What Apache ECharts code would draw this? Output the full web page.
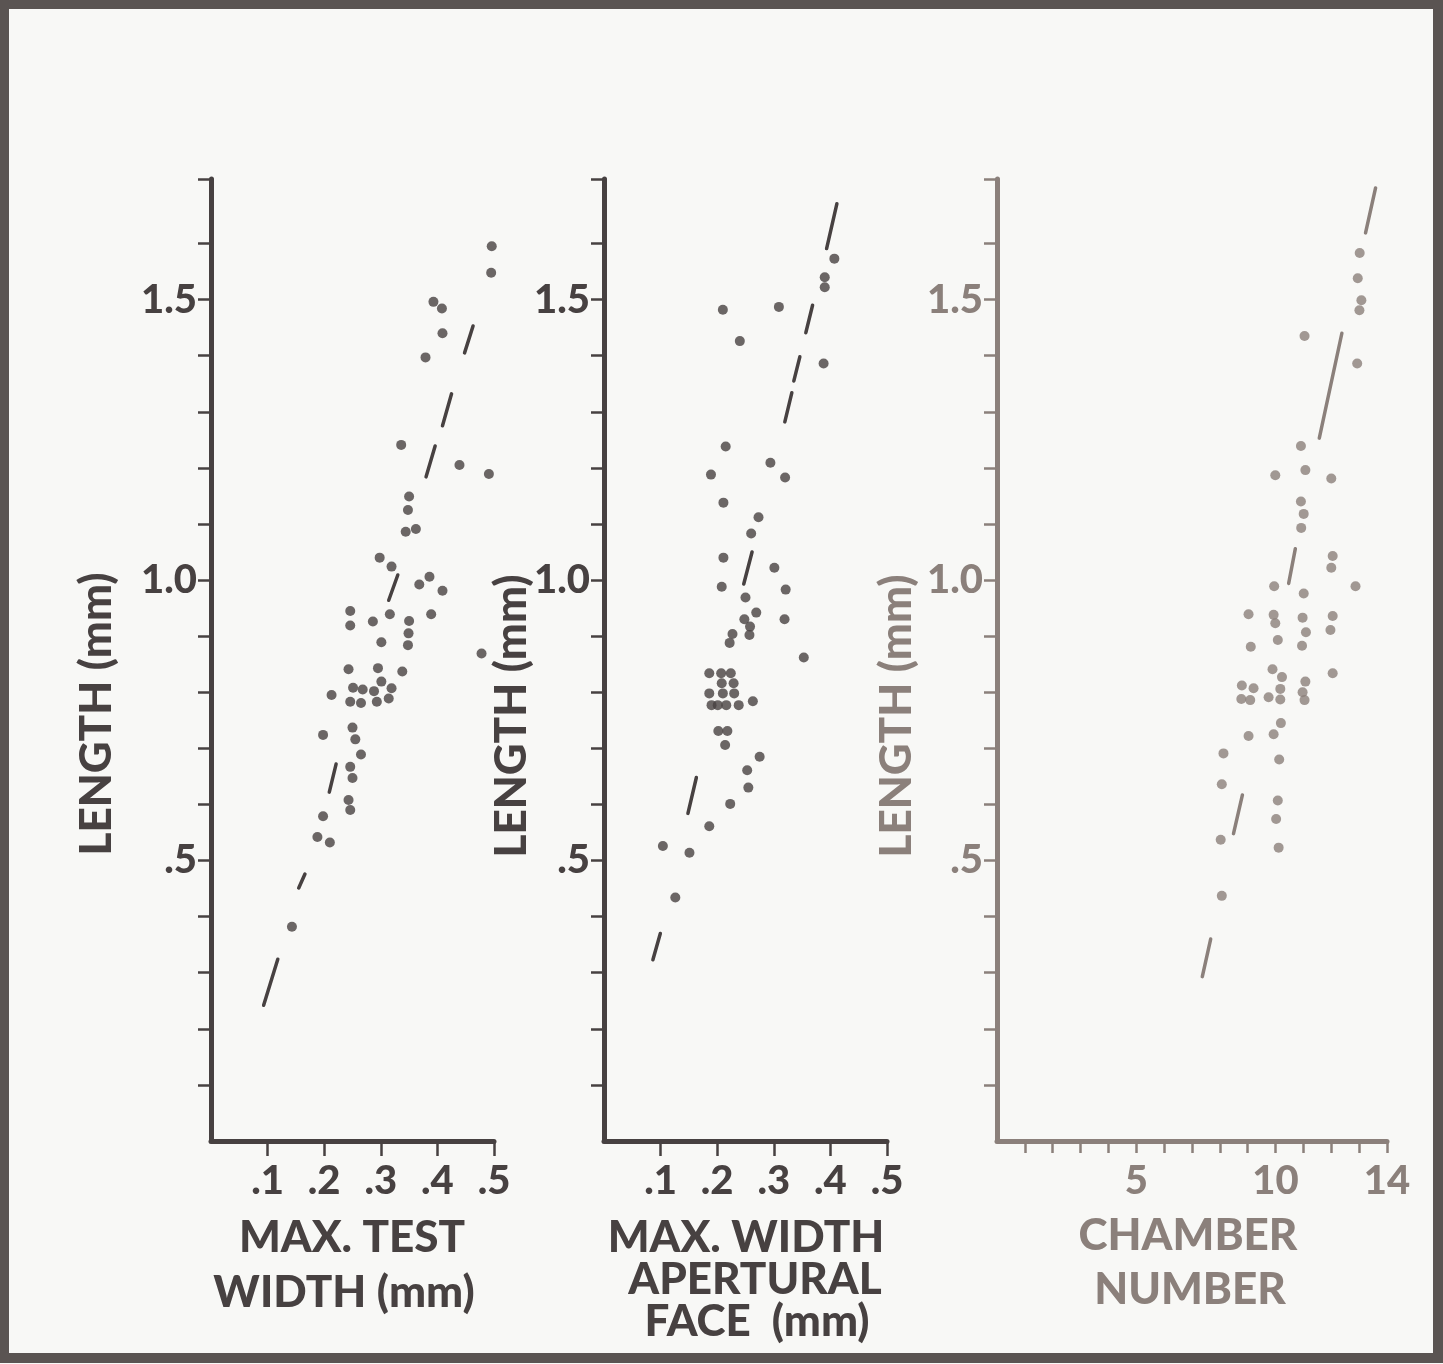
<!DOCTYPE html>
<html>
<head>
<meta charset="utf-8">
<script src="https://cdn.jsdelivr.net/npm/echarts@6/dist/echarts.min.js"></script>
<style>
  html, body { margin: 0; padding: 0; background: #f8f8f6; }
  #chart { width: 1443px; height: 1364px; }
</style>
</head>
<body>
<div id="chart"></div>
<script>
// panel 1: length vs max. test width
var widthPoints = [
  [.496,1.595],[.495,1.548],[.393,1.496],[.408,1.484],[.409,1.440],[.379,1.397],[.336,1.241],
  [.439,1.205],[.491,1.189],[.350,1.149],[.348,1.125],[.344,1.086],[.362,1.091],[.298,1.040],
  [.319,1.024],[.386,1.006],[.368,0.992],[.409,0.981],[.246,0.945],[.246,0.919],[.286,0.926],
  [.316,0.939],[.350,0.927],[.389,0.939],[.349,0.905],[.348,0.884],[.301,0.889],[.478,0.869],
  [.243,0.841],[.295,0.843],[.338,0.837],[.301,0.819],[.213,0.795],[.251,0.808],[.268,0.805],
  [.288,0.802],[.319,0.807],[.314,0.789],[.246,0.783],[.265,0.781],[.293,0.783],[.198,0.724],
  [.250,0.737],[.255,0.716],[.265,0.689],[.246,0.667],[.250,0.647],[.243,0.608],[.246,0.590],
  [.198,0.579],[.188,0.542],[.210,0.532],[.143,0.382]
];
var widthDashes = [
  [[.534,1.692],[.518,1.638]], [[.463,1.453],[.448,1.405]], [[.425,1.332],[.409,1.275]],
  [[.396,1.239],[.380,1.184]], [[.330,1.009],[.314,0.964]], [[.221,0.672],[.209,0.622]],
  [[.166,0.476],[.155,0.451]], [[.118,0.324],[.093,0.242]]
];

// panel 2: length vs max. width of apertural face
var faceWidthPoints = [
  [.407,1.573],[.390,1.540],[.390,1.522],[.210,1.482],[.309,1.487],[.240,1.426],[.388,1.386],
  [.215,1.238],[.294,1.209],[.189,1.188],[.320,1.183],[.211,1.138],[.273,1.112],[.260,1.083],
  [.211,1.040],[.301,1.022],[.208,0.988],[.321,0.983],[.250,0.969],[.269,0.942],[.248,0.930],
  [.258,0.917],[.257,0.902],[.319,0.930],[.227,0.904],[.222,0.888],[.353,0.862],
  [.186,0.834],[.207,0.834],[.224,0.834],[.208,0.816],[.229,0.816],[.186,0.798],[.210,0.798],
  [.230,0.798],[.190,0.777],[.201,0.777],[.216,0.777],[.238,0.777],[.263,0.784],
  [.202,0.731],[.218,0.731],[.214,0.706],[.275,0.685],[.253,0.661],[.255,0.630],[.223,0.601],
  [.186,0.561],[.104,0.526],[.151,0.514],[.126,0.434]
];
var faceWidthDashes = [
  [[.4115,1.671],[.3933,1.591]], [[.3685,1.490],[.3566,1.441]], [[.346,1.398],[.3354,1.355]],
  [[.3319,1.334],[.3195,1.282]], [[.2616,1.050],[.2469,0.993]], [[.1632,0.648],[.1483,0.584]],
  [[.0995,0.370],[.0864,0.323]]
];

// panel 3: length vs chamber number
var chamberPoints = [
  [13.02,1.583],[12.95,1.538],[13.08,1.499],[13.01,1.481],[11.04,1.435],[12.93,1.386],
  [10.91,1.239],[9.99,1.187],[11.07,1.196],[12.0,1.181],[10.91,1.140],[11.01,1.118],
  [10.92,1.093],[12.05,1.043],[12.0,1.022],[9.95,0.989],[11.01,0.976],[12.87,0.989],
  [9.03,0.939],[9.93,0.938],[9.99,0.923],[10.97,0.933],[12.05,0.936],[11.09,0.907],
  [11.97,0.911],[10.08,0.893],[9.11,0.881],[10.95,0.883],[9.89,0.841],[10.23,0.827],
  [12.05,0.834],[8.79,0.812],[9.21,0.807],[10.17,0.806],[11.07,0.819],[8.77,0.788],
  [9.09,0.786],[9.75,0.791],[10.17,0.787],[10.97,0.800],[11.04,0.786],[10.19,0.745],
  [9.03,0.722],[9.93,0.725],[8.13,0.691],[10.13,0.680],[8.07,0.636],[10.08,0.607],
  [10.02,0.574],[10.11,0.523],[8.03,0.537],[8.07,0.437]
];
var chamberDashes = [
  [[13.59,1.699],[13.23,1.619]], [[12.38,1.440],[11.57,1.253]], [[10.71,1.056],[10.47,0.994]],
  [[8.81,0.617],[8.49,0.548]], [[7.67,0.360],[7.37,0.293]]
];

var lengthTicks = [0.1,0.2,0.3,0.4,0.5,0.6,0.7,0.8,0.9,1.0,1.1,1.2,1.3,1.4,1.5,1.6,1.715];
var lengthLabels = [0.5, 1.0, 1.5];
var widthTicks = [0.1,0.2,0.3,0.4,0.5];
var chamberTicks = [1,2,3,4,5,6,7,8,9,10,11,12,13,14];
var chamberLabels = [5, 10, 14];

var dark = '#474141';
var light = '#8b807b';
var font = 'Lato, "DejaVu Sans", sans-serif';

var chart = echarts.init(document.getElementById('chart'));

function lengthLabel(v) {
  if (Math.abs(v - 0.5) < 1e-6) return '.5';
  return v.toFixed(1);
}

function yAxisFor(idx, color) {
  return {
    type: 'value', gridIndex: idx, min: 0, max: 1.715,
    axisLine: { show: true, lineStyle: { color: color, width: 5 } },
    axisTick: { show: true, length: 13, customValues: lengthTicks, lineStyle: { color: color, width: 2.5 } },
    axisLabel: {
      customValues: lengthLabels, formatter: lengthLabel, margin: 14,
      color: color, fontSize: 40, fontWeight: 900, fontFamily: font
    },
    splitLine: { show: false }
  };
}

function xAxisFor(idx, color, max, ticks, labels, fmt, tickLen) {
  return {
    type: 'value', gridIndex: idx, min: 0, max: max,
    axisLine: { show: true, lineStyle: { color: color, width: 5 } },
    axisTick: { show: true, length: tickLen, customValues: ticks, lineStyle: { color: color, width: 2.5 } },
    axisLabel: {
      customValues: labels, formatter: fmt, margin: 20,
      color: color, fontSize: 40, fontWeight: 900, fontFamily: font
    },
    splitLine: { show: false }
  };
}

function dots(idx, data, color) {
  return {
    type: 'scatter', xAxisIndex: idx, yAxisIndex: idx, data: data,
    symbolSize: 10, itemStyle: { color: color }, silent: true
  };
}

function dashes(idx, data, color) {
  return {
    type: 'lines', coordinateSystem: 'cartesian2d', xAxisIndex: idx, yAxisIndex: idx,
    data: data.map(function (d) { return { coords: d }; }),
    lineStyle: { color: color, width: 3.5, cap: 'round', opacity: 1 }, silent: true
  };
}

function title(text, x, y, color, rot) {
  return {
    type: 'text', x: x, y: y, rotation: rot || 0,
    style: {
      text: text, fill: color, font: '900 44px ' + font,
      textAlign: 'center', textVerticalAlign: 'middle'
    }
  };
}

function fmtWidth(v) { return '.' + Math.round(v * 10); }

var option = {
  backgroundColor: '#f8f8f6',
  animation: false,
  grid: [
    { left: 211, top: 179, width: 283, height: 962, outerBoundsMode: 'none' },
    { left: 604, top: 179, width: 283, height: 962, outerBoundsMode: 'none' },
    { left: 997, top: 179, width: 390, height: 962, outerBoundsMode: 'none' }
  ],
  xAxis: [
    xAxisFor(0, dark, 0.5, widthTicks, widthTicks, fmtWidth, 15),
    xAxisFor(1, dark, 0.5, widthTicks, widthTicks, fmtWidth, 15),
    xAxisFor(2, light, 14, chamberTicks, chamberLabels, function (v) { return String(v); }, 12)
  ],
  yAxis: [yAxisFor(0, dark), yAxisFor(1, dark), yAxisFor(2, light)],
  series: [
    dots(0, widthPoints, dark), dashes(0, widthDashes, dark),
    dots(1, faceWidthPoints, dark), dashes(1, faceWidthDashes, dark),
    dots(2, chamberPoints, light), dashes(2, chamberDashes, light)
  ],
  graphic: [
    { type: 'rect', shape: { x: 4, y: 4, width: 1434, height: 1354 },
      style: { fill: 'none', stroke: '#5a5452', lineWidth: 10 } },
    title('LENGTH (mm)', 97, 714, dark, Math.PI / 2),
    title('LENGTH (mm)', 512, 716, dark, Math.PI / 2),
    title('LENGTH (mm)', 897, 716, light, Math.PI / 2),
    title('MAX. TEST', 352, 1238, dark),
    title('WIDTH (mm)', 344, 1293, dark),
    title('MAX. WIDTH', 746, 1238, dark),
    title('APERTURAL', 755, 1280, dark),
    title('FACE  (mm)', 757, 1322, dark),
    title('CHAMBER', 1188, 1236, light),
    title('NUMBER', 1190, 1290, light)
  ]
};

chart.setOption(option);
</script>
</body>
</html>
